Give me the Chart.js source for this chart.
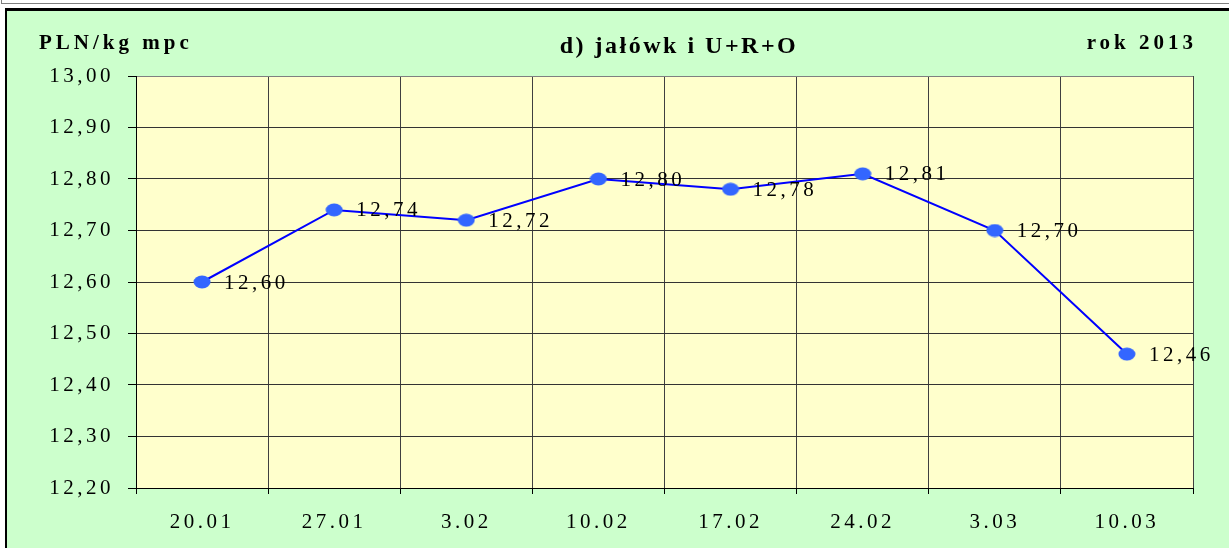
<!DOCTYPE html>
<html>
<head>
<meta charset="utf-8">
<title>jałówki U+R+O</title>
<script src="https://cdn.jsdelivr.net/npm/chart.js@4/dist/chart.umd.min.js"></script>
<style>
  body { margin: 0; background: #fff; }
  canvas { display: block; }
</style>
</head>
<body>
<canvas id="priceChart" width="1229" height="548"></canvas>
<script>
"use strict";

// chart data
const weeks = ["20.01", "27.01", "3.02", "10.02", "17.02", "24.02", "3.03", "10.03"];
const prices = [12.60, 12.74, 12.72, 12.80, 12.78, 12.81, 12.70, 12.46];
const priceLabels = ["12,60", "12,74", "12,72", "12,80", "12,78", "12,81", "12,70", "12,46"];
const yTickValues = [12.2, 12.3, 12.4, 12.5, 12.6, 12.7, 12.8, 12.9, 13.0];
const yTickLabels = ["12,20", "12,30", "12,40", "12,50", "12,60", "12,70", "12,80", "12,90", "13,00"];

const chartTitle = "d) jałówk i U+R+O";
const unitText = "PLN/kg mpc";
const yearText = "rok 2013";

const SERIF = "'Liberation Serif', 'Times New Roman', serif";

// flat ellipse marker like the original
const marker = document.createElement("canvas");
marker.width = 18;
marker.height = 14;
const mctx = marker.getContext("2d");
mctx.fillStyle = "#3366FF";
mctx.beginPath();
mctx.ellipse(9, 7, 8.5, 6.5, 0, 0, Math.PI * 2);
mctx.fill();

// backgrounds, frame, header texts and value labels
const framePlugin = {
  id: "frame",
  beforeUpdate(chart) {
    chart.ctx.letterSpacing = "3.5px";
  },
  beforeDraw(chart) {
    const ctx = chart.ctx;
    const a = chart.chartArea;
    ctx.save();
    ctx.fillStyle = "#FFFFFF";
    ctx.fillRect(0, 0, chart.width, chart.height);
    // strip of the box above
    ctx.fillStyle = "#808080";
    ctx.fillRect(1, 3, chart.width - 1, 1);
    ctx.fillRect(1, 0, 1, 4);
    // green panel
    ctx.fillStyle = "#CCFFCC";
    ctx.fillRect(6, 8, chart.width - 6, chart.height - 8);
    ctx.fillStyle = "#000000";
    ctx.fillRect(6, 8, chart.width - 6, 3);
    ctx.fillRect(5, 8, 2, chart.height - 8);
    // plot area
    ctx.fillStyle = "#FFFFCC";
    ctx.fillRect(a.left, a.top, a.right - a.left, a.bottom - a.top);
    ctx.restore();
    ctx.letterSpacing = "3.5px";
  },
  afterDraw(chart) {
    const ctx = chart.ctx;
    const a = chart.chartArea;
    ctx.save();
    ctx.fillStyle = "#000000";
    ctx.textBaseline = "alphabetic";
    ctx.font = "bold 21px " + SERIF;
    ctx.letterSpacing = "4px";
    ctx.textAlign = "left";
    ctx.fillText(unitText, 39, 49);
    ctx.textAlign = "right";
    ctx.fillText(yearText, a.right + 4, 49);
    ctx.font = "bold 24px " + SERIF;
    ctx.letterSpacing = "2.5px";
    ctx.textAlign = "center";
    ctx.fillText(chartTitle, 679, 53);
    ctx.restore();
  },
  afterDatasetsDraw(chart) {
    const ctx = chart.ctx;
    const meta = chart.getDatasetMeta(0);
    ctx.save();
    ctx.font = "21px " + SERIF;
    ctx.letterSpacing = "3.5px";
    ctx.fillStyle = "#000000";
    ctx.textAlign = "left";
    ctx.textBaseline = "middle";
    meta.data.forEach((pt, i) => {
      ctx.fillText(priceLabels[i], pt.x + 22, pt.y + 1);
    });
    ctx.restore();
  }
};

const ctx = document.getElementById("priceChart").getContext("2d");
new Chart(ctx, {
  type: "line",
  data: {
    labels: weeks,
    datasets: [{
      data: prices,
      borderColor: "#0000FF",
      borderWidth: 2,
      tension: 0,
      pointStyle: marker,
      pointRadius: 8,
      pointHoverRadius: 8
    }]
  },
  options: {
    responsive: false,
    animation: false,
    events: [],
    layout: { padding: { left: 0, top: 76, right: 36, bottom: 0 } },
    plugins: {
      legend: { display: false },
      title: { display: false },
      tooltip: { enabled: false }
    },
    scales: {
      x: {
        offset: true,
        afterFit(scale) { scale.height = 60; },
        grid: {
          offset: true,
          color: c => (c.index === weeks.length ? "#808080" : "#404040"),
          lineWidth: 1,
          tickLength: 6,
          tickColor: "#000000"
        },
        border: { color: "#000000", width: 1 },
        ticks: {
          autoSkip: false,
          maxRotation: 0,
          padding: 16,
          color: "#000000",
          font: { family: SERIF, size: 21 }
        }
      },
      y: {
        min: 12.2,
        max: 13.0,
        afterFit(scale) { scale.width = 136; },
        afterBuildTicks(scale) {
          scale.ticks = yTickValues.map(v => ({ value: v }));
        },
        grid: {
          color: c => (c.tick && c.tick.value === 13.0 ? "#808080" : "#333333"),
          lineWidth: 1,
          tickLength: 8,
          tickColor: "#000000"
        },
        border: { color: "#000000", width: 1 },
        ticks: {
          padding: 14,
          color: "#000000",
          font: { family: SERIF, size: 21 },
          callback: (value, index) => yTickLabels[index]
        }
      }
    }
  },
  plugins: [framePlugin]
});
</script>
</body>
</html>
